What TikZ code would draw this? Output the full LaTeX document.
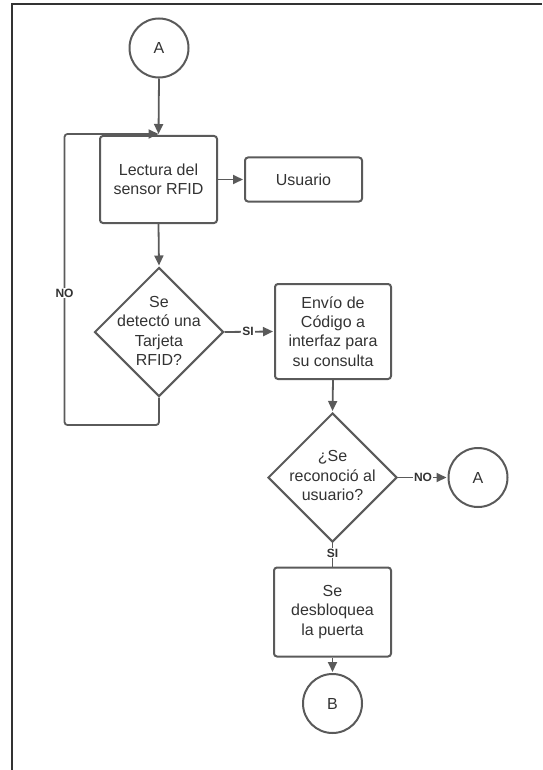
\documentclass[tikz,border=0pt]{standalone}
\usepackage{fontspec}
\setmainfont{Liberation Sans}
\usetikzlibrary{shapes.geometric,arrows.meta}
\definecolor{lineg}{HTML}{5A5A5A}
\definecolor{txtg}{HTML}{333333}
\definecolor{frameg}{HTML}{333333}
\begin{document}
\begin{tikzpicture}[x=1pt,y=-1pt,
  every node/.style={text=txtg, font=\fontsize{16}{19.3}\selectfont},
  proc/.style={draw=lineg, line width=2pt, rounded corners=3pt, minimum width=117pt, align=center, inner sep=0pt},
  conn/.style={draw=lineg, line width=2pt, circle, minimum size=59pt, inner sep=0pt},
  dec/.style={draw=lineg, line width=2pt, diamond, minimum width=129pt, minimum height=129pt, inner sep=0pt, aspect=1},
  flow/.style={draw=lineg, line width=1.8pt, -{Triangle[length=10pt,width=9pt]}},
  plain/.style={draw=lineg, line width=1.8pt},
  lab/.style={fill=white, font=\fontsize{12}{14}\bfseries\selectfont, inner sep=1pt, text=txtg}
]
\useasboundingbox (0,0) rectangle (542,770);
\draw[frameg, line width=2pt] (12,770) -- (12,4.5) -- (542,4.5);

\node[conn] (A1) at (159,48) {A};
\node[proc, minimum height=87pt] (lect) at (158.5,179.5) {Lectura del\\sensor RFID};
\node[proc, minimum height=44pt] (usu) at (303.5,179.5) {Usuario};
\node[dec] (d1) at (159,332) {};
\node[align=center] (d1t) at (159,331) {Se\\detectó una\\Tarjeta\\RFID?};
\node[proc, minimum width=116pt, minimum height=95pt] (env) at (333,331.5) {Envío de\\Código a\\interfaz para\\su consulta};
\node[dec] (d2) at (332.5,477.5) {};
\node[align=center] (d2t) at (332.5,475.5) {¿Se\\reconoció al\\usuario?};
\node[conn] (A2) at (478,477.5) {A};
\node[proc, minimum height=89pt] (desb) at (332.5,612) {Se\\desbloquea\\la puerta};
\node[conn] (B) at (332.5,703.5) {B};

\coordinate (lpb) at (159,425);
\coordinate (lpl) at (64.5,425);
\coordinate (lpt) at (64.5,134);

\draw[flow, shorten >=1pt] (A1.south) -- (lect.north);
\draw[flow, rounded corners=3pt] (d1.south) -- (lpb) -- (lpl) -- (lpt) -- (lect.north |- lpt);
\draw[flow, shorten >=1pt] (lect.east) -- (usu.west);
\draw[flow, shorten >=1pt] (lect.south) -- (d1.north);
\draw[flow, shorten >=1pt] (d1.east) -- (env.west);
\draw[flow, shorten >=1pt] (env.south) -- (d2.north);
\draw[flow, shorten >=1pt] (d2.east) -- (A2.west);
\draw[plain] (d2.south) -- (desb.north);
\draw[flow, shorten >=1pt] (desb.south) -- (B.north);

\node[lab] (no1) at (64.5,293) {NO};
\node[lab] (si1) at (248,331) {SI};
\node[lab] (no2) at (423,477) {NO};
\node[lab] (si2) at (332.5,553) {SI};
\end{tikzpicture}
\end{document}
